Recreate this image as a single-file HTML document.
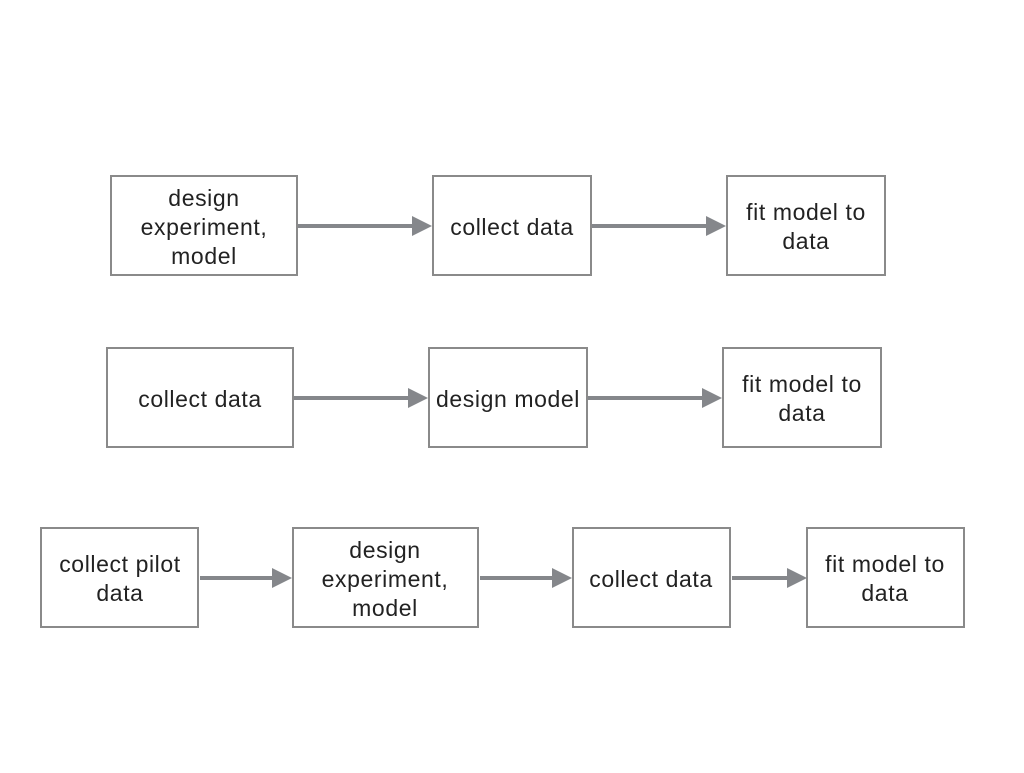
<!DOCTYPE html>
<html><head><style>body{margin:0;background:#fff}</style></head><body>
<svg width="1024" height="768" xmlns="http://www.w3.org/2000/svg" font-family="Liberation Sans, sans-serif" font-size="23" letter-spacing="0.6" fill="#222">
<defs><marker id="a" markerWidth="5" markerHeight="5" refX="0" refY="2.5" orient="auto" markerUnits="strokeWidth"><path d="M0,0 L5,2.5 L0,5 z" fill="#85878b"/></marker></defs>
<g fill="none" stroke="#8a8a8a" stroke-width="2">
<rect x="111" y="176" width="186" height="99"/><rect x="433" y="176" width="158" height="99"/><rect x="727" y="176" width="158" height="99"/>
<rect x="107" y="348" width="186" height="99"/><rect x="429" y="348" width="158" height="99"/><rect x="723" y="348" width="158" height="99"/>
<rect x="41" y="528" width="157" height="99"/><rect x="293" y="528" width="185" height="99"/><rect x="573" y="528" width="157" height="99"/><rect x="807" y="528" width="157" height="99"/>
</g>
<g stroke="#85878b" stroke-width="4" marker-end="url(#a)">
<line x1="298" y1="226" x2="412" y2="226"/><line x1="592" y1="226" x2="706" y2="226"/>
<line x1="294" y1="398" x2="408" y2="398"/><line x1="588" y1="398" x2="702" y2="398"/>
<line x1="200" y1="578" x2="272" y2="578"/><line x1="480" y1="578" x2="552" y2="578"/><line x1="732" y1="578" x2="787" y2="578"/>
</g>
<g text-anchor="middle">
<text x="204" y="206">design</text><text x="204" y="235">experiment,</text><text x="204" y="264">model</text>
<text x="512" y="235">collect data</text>
<text x="806" y="220">fit model to</text><text x="806" y="249">data</text>
<text x="200" y="407">collect data</text>
<text x="508" y="407">design model</text>
<text x="802" y="392">fit model to</text><text x="802" y="421">data</text>
<text x="120" y="572">collect pilot</text><text x="120" y="601">data</text>
<text x="385" y="558">design</text><text x="385" y="587">experiment,</text><text x="385" y="616">model</text>
<text x="651" y="587">collect data</text>
<text x="885" y="572">fit model to</text><text x="885" y="601">data</text>
</g>
</svg>
</body></html>
